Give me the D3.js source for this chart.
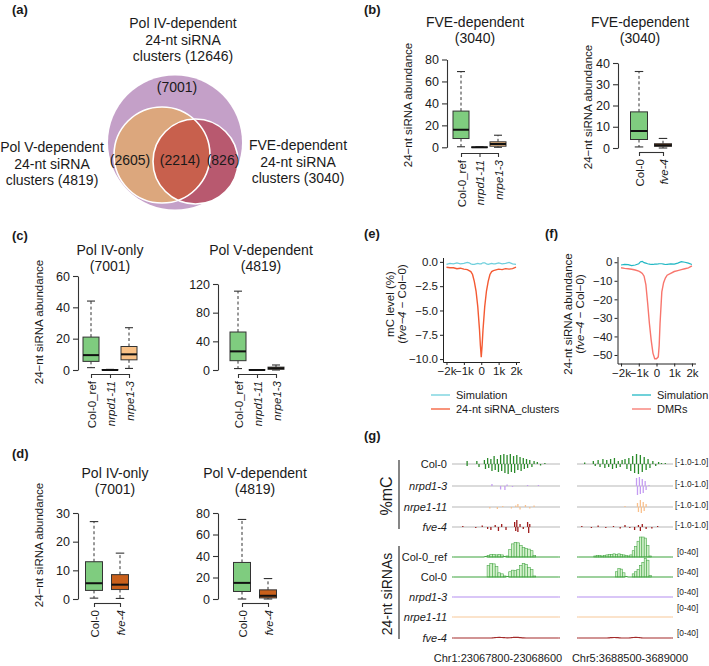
<!DOCTYPE html>
<html><head><meta charset="utf-8">
<script src="https://cdn.jsdelivr.net/npm/d3@7"></script>
<style>
body{margin:0;background:#fff}
svg{display:block}
text{font-family:"Liberation Sans",Arial,Helvetica,sans-serif;fill:#1a1a1a}
</style>
</head><body>
<svg id="chart" width="709" height="666"></svg>
<script>
// ---------------- DATA ----------------
// (a) Venn
const vennNames = [["Pol IV-dependent","24-nt siRNA","clusters (12646)"],["Pol V-dependent","24-nt siRNA","clusters (4819)"],["FVE-dependent","24-nt siRNA","clusters (3040)"]];
const vennRegions = ["(7001)","(2605)","(2214)","(826)"];

// box stats: [lower whisker, Q1, median, Q3, upper whisker]
const bTitle = ["FVE-dependent","(3040)"];
const bCats1 = ["Col-0_ref","nrpd1-11","nrpe1-3"];
const bStats1 = [[0.5,8,16,33,69],[0,0,0,0.2,0.4],[0,1,3,5,11]];
const bTicks1 = [0,20,40,60,80];
const bCats2 = ["Col-0","fve-4"];
const bStats2 = [[0.5,4,8,17,36],[0,0.8,1.3,2,4.5]];
const bTicks2 = [0,10,20,30,40];

const cTitles = [["Pol IV-only","(7001)"],["Pol V-dependent","(4819)"]];
const cCats = ["Col-0_ref","nrpd1-11","nrpe1-3"];
const cStats1 = [[1.5,5.5,9.5,21,44],[0,0,0,0.2,0.4],[1,6.5,10,15,27]];
const cTicks1 = [0,20,40,60];
const cStats2 = [[2,13,26,53,110],[0,0,0,0.3,0.6],[0,1,2.5,4,7]];
const cTicks2 = [0,40,80,120];

const dCats = ["Col-0","fve-4"];
const dStats1 = [[0.3,3,5.5,13,27],[0.2,3.3,5,8.5,16]];
const dTicks1 = [0,10,20,30];
const dStats2 = [[0,7,15,34,74],[0,1,3,8.5,19]];
const dTicks2 = [0,20,40,60,80];

const boxColors = {"Col-0_ref":"#7fcc7f","Col-0":"#7fcc7f","nrpd1-11":"#bbbbbb","nrpe1-3":"#f9c186","fve-4":"#c9601b"};

// (e) mC level difference
const eDist = [-2000,-1800,-1600,-1400,-1200,-1000,-800,-700,-600,-500,-400,-300,-200,-100,-50,0,50,100,200,300,400,500,600,700,800,1000,1200,1400,1600,1800,2000];
const eClusters = [-0.55,-0.6,-0.6,-0.7,-0.65,-0.75,-0.8,-0.9,-1.0,-1.3,-2.0,-3.0,-4.6,-7.0,-8.6,-9.8,-8.6,-7.0,-4.6,-3.0,-2.0,-1.3,-1.0,-0.9,-0.85,-0.75,-0.8,-0.7,-0.75,-0.7,-0.55];
const eSim = [-0.25,-0.15,-0.2,-0.1,-0.2,-0.15,-0.05,-0.1,-0.2,-0.25,-0.25,-0.2,-0.15,-0.2,-0.2,-0.2,-0.15,-0.1,-0.1,-0.2,-0.25,-0.2,-0.15,-0.2,-0.2,-0.1,-0.2,-0.15,-0.05,-0.2,-0.25];
const eTicks = [0,-2.5,-5,-7.5,-10];

// (f) siRNA abundance difference
const fDist = [-2000,-1800,-1600,-1400,-1200,-1000,-900,-800,-700,-600,-500,-400,-300,-200,-100,0,100,150,200,300,400,500,600,800,1000,1200,1400,1600,1800,2000];
const fDMR = [-3,-3.3,-3.5,-3.8,-4.2,-4.8,-5.3,-6,-7.5,-12,-22,-33,-42,-49,-52,-52,-51,-45,-33,-16,-11,-8.5,-7,-6,-5,-4.5,-4,-3.5,-3,-2];
const fSim = [-1.5,-1.2,-1.3,-1.8,-1.5,-0.8,0.3,0.5,-0.2,-0.5,-0.8,-1.0,-1.2,-1.2,-1.0,-1.0,-0.9,-0.8,-0.8,-0.8,-1.0,-1.2,-1.1,-0.9,-1.0,-0.5,0.3,0,-0.5,-1.2];
const fTicks = [0,-10,-20,-30,-40,-50];
const xTicksEF = [-2000,-1000,0,1000,2000];

// (g) genome browser tracks: %mC bars [relative position, value(-1..1)]
const mcRows = ["Col-0","nrpd1-3","nrpe1-11","fve-4"];
const mcLeft = [
 [[0.14,0.3],[0.14,-0.2],[0.23,0.3],[0.25,-0.3],[0.30,0.4],[0.31,-0.5],[0.33,0.6],[0.34,-0.4],[0.36,0.5],[0.37,-0.7],[0.39,0.8],[0.40,-0.6],[0.42,0.5],[0.43,-0.8],[0.45,0.9],[0.46,-0.7],[0.48,1.0],[0.49,-0.9],[0.51,0.9],[0.52,-1.0],[0.54,1.0],[0.55,-0.8],[0.57,0.8],[0.58,-0.9],[0.60,0.9],[0.61,-0.6],[0.63,0.7],[0.64,-0.7],[0.66,0.6],[0.67,-0.5],[0.69,0.5],[0.70,-0.4],[0.72,0.4],[0.74,-0.3],[0.76,0.3],[0.79,0.2],[0.82,-0.15],[0.86,0.1]],
 [[0.37,0.2],[0.45,-0.35],[0.49,-0.4],[0.51,0.15],[0.56,-0.1],[0.70,0.1],[0.80,0.1]],
 [[0.35,-0.15],[0.42,-0.2],[0.47,0.1],[0.55,-0.15],[0.59,0.15],[0.61,0.3],[0.63,-0.25],[0.68,0.2],[0.72,-0.15],[0.76,0.15]],
 [[0.10,0.1],[0.22,-0.1],[0.28,0.15],[0.33,-0.2],[0.36,-0.3],[0.40,0.2],[0.43,-0.4],[0.46,0.3],[0.50,-0.3],[0.58,0.5],[0.59,-0.4],[0.60,0.7],[0.61,-0.5],[0.63,0.3],[0.66,-0.2],[0.70,0.5],[0.71,-0.6],[0.72,0.3]]
];
const mcRight = [
 [[0.08,0.15],[0.17,0.3],[0.19,-0.2],[0.22,0.4],[0.24,-0.3],[0.27,0.5],[0.29,-0.4],[0.31,0.4],[0.33,-0.3],[0.35,0.5],[0.37,-0.5],[0.39,0.6],[0.41,-0.4],[0.43,0.3],[0.45,-0.3],[0.47,0.4],[0.50,0.5],[0.52,-0.5],[0.54,0.6],[0.56,-0.7],[0.58,0.8],[0.60,-0.9],[0.62,1.0],[0.64,-1.0],[0.66,0.9],[0.68,-0.8],[0.70,0.7],[0.72,-0.6],[0.74,0.5],[0.76,-0.4],[0.79,0.3],[0.82,-0.2],[0.85,0.2],[0.88,0.1],[0.92,0.1]],
 [[0.62,0.8],[0.63,-0.9],[0.65,0.9],[0.66,-0.8],[0.68,0.7],[0.69,-0.7],[0.71,0.5],[0.72,-0.4],[0.75,0.1]],
 [[0.50,0.1],[0.63,0.4],[0.64,-0.5],[0.66,0.7],[0.67,-0.6],[0.69,0.5],[0.70,-0.4],[0.72,0.3]],
 [[0.05,0.1],[0.15,-0.1],[0.22,0.15],[0.30,-0.1],[0.38,0.1],[0.45,-0.15],[0.50,0.2],[0.55,-0.1],[0.60,-0.3],[0.64,0.2],[0.66,-0.4],[0.68,0.3],[0.72,-0.2],[0.78,-0.15],[0.84,0.1]]
];
const mcColors = ["#2a8a2a","#c49cf2","#f9c08c","#9e1c1c"];

// siRNA coverage (40 bins per region, 0-40 scale)
const srRows = ["Col-0_ref","Col-0","nrpd1-3","nrpe1-11","fve-4"];
const srLeft = [
 [0,0,0,0,0,0,0,0,0,0,0,0,1,3,5,5,4,5,4,1,2,14,25,28,27,22,18,16,15,12,3,0,0,0,0,0,0,0,0,0],
 [0,0,0,0,0,0,0,0,0,0,0,0,0,22,26,25,20,8,6,2,1,10,13,12,14,22,26,24,18,14,2,0,0,0,0,0,0,0,0,0],
 [0,0,0,0,0,0,0,0,0,0,0,0,0,0,0,0,0,0,0,0,0,0,0,0,0,0,0,0,0,0,0,0,0,0,0,0,0,0,0,0],
 [0,0,0,0,0,0,0,0,0,0,0,0,0,0,0,0,0,0,0,0,0,0,0,0,0,0,0,0,0,0,0,0,0,0,0,0,0,0,0,0],
 [0,0,0,0,0,0,0,0,0,0,0,0,0,0,0,0.5,1,1.2,1,0.6,0.3,0.5,1,1.3,1.1,0.6,0.2,0,0,0,0,0,0,0,0,0,0,0,0,0]
];
const srRight = [
 [0,0,0,0,0,0,0,2,3,3,2,3,4,5,5,6,5,6,5,4,3,2,4,12,20,30,38,38,36,22,2,0,0,0,0,0,0,0,0,0],
 [0,0,0,0,0,0,0,0,0,0,0,0,0,0,0,0,10,16,15,8,1,0,0,6,10,14,22,28,35,32,3,0,0,0,0,0,0,0,0,0],
 [0,0,0,0,0,0,0,0,0,0,0,0,0,0,0,0,0,0,0,0,0,0,0,0,0,0,0,0,0,0,0,0,0,0,0,0,0,0,0,0],
 [0,0,0,0,0,0,0,0,0,0,0,0,0,0,0,0,0,0,0,0,0,0,0,0,0,0,0,0,0,0,0,0,0,0,0,0,0,0,0,0],
 [0,0,0,0,0,0,0,0,0,0,0,0,0,0.4,0.8,1,0.8,0.4,0,0,0,0,0.5,1,1.2,1,0.5,0,0,0,0,0,0,0,0,0,0,0,0,0]
];
const srLineColors = ["#3da33d","#3da33d","#b48ef0","#f8c898","#a32a2a"];
const regions = ["Chr1:23067800-23068600","Chr5:3688500-3689000"];

// ---------------- DRAW ----------------
const FF = '"Liberation Sans",Arial,sans-serif';
const svg = d3.select("#chart");
svg.append("rect").attr("width",709).attr("height",666).attr("fill","#fff");

function panelLabel(t,x,y){
  svg.append("text").attr("x",x).attr("y",y).attr("font-size",13).attr("font-weight","bold").text(t);
}
panelLabel("(a)",12,14); panelLabel("(b)",364,14); panelLabel("(c)",12,240);
panelLabel("(d)",12,458); panelLabel("(e)",364,238); panelLabel("(f)",545,238); panelLabel("(g)",364,440);

// ---- (a) Venn ----
(function(){
  const g = svg.append("g");
  const C = [{cx:175,cy:142.5,r:67},{cx:162,cy:155,r:48},{cx:195.5,cy:161.5,r:42.5}];
  const fills = ["#c4a0c8","#dca77d","#b8596f"];
  g.append("clipPath").attr("id","clipV").append("circle").attr("cx",C[1].cx).attr("cy",C[1].cy).attr("r",C[1].r);
  C.forEach((c,i)=>g.append("circle").attr("cx",c.cx).attr("cy",c.cy).attr("r",c.r).attr("fill",fills[i]));
  g.append("circle").attr("cx",C[2].cx).attr("cy",C[2].cy).attr("r",C[2].r).attr("fill","#c8604d").attr("clip-path","url(#clipV)");
  [1,2].forEach(i=>g.append("circle").attr("cx",C[i].cx).attr("cy",C[i].cy).attr("r",C[i].r).attr("fill","none").attr("stroke","#fff").attr("stroke-width",1.6));
  const lab = [{x:183,y:28},{x:52,y:152},{x:298,y:150}];
  vennNames.forEach((lines,i)=>{
    lines.forEach((t,j)=>g.append("text").attr("x",lab[i].x).attr("y",lab[i].y+j*16.7).attr("text-anchor","middle").attr("font-size",14).text(t));
  });
  const rp = [{x:177,y:92},{x:130,y:165},{x:180,y:165},{x:223,y:165}];
  vennRegions.forEach((t,i)=>g.append("text").attr("x",rp[i].x).attr("y",rp[i].y).attr("text-anchor","middle").attr("font-size",14).text(t));
})();

// ---- box plots ----
function boxPlot(o){
  const g = svg.append("g");
  const y = d3.scaleLinear().domain([0,o.ticks[o.ticks.length-1]]).range([o.yZero,o.yTop]);
  const x = d3.scalePoint().domain(o.cats).range([o.xFirst,o.xLast]);
  const ya = g.append("g").attr("transform",`translate(${o.axisX},0)`)
    .call(d3.axisLeft(y).tickValues(o.ticks).tickSize(5).tickSizeOuter(0).tickPadding(3).tickFormat(d3.format("d")));
  ya.selectAll("path,line").attr("stroke","#333").attr("stroke-width",1.1);
  ya.selectAll("text").attr("font-size",12.5).attr("fill","#1a1a1a").style("font-family",FF);
  const xa = g.append("g").attr("transform",`translate(0,${o.axisY})`)
    .call(d3.axisBottom(x).tickSize(4).tickSizeOuter(0));
  xa.selectAll("path,line").attr("stroke","#333").attr("stroke-width",1.1);
  xa.selectAll("text").attr("transform","rotate(-90)").attr("text-anchor","end")
    .attr("x",-7).attr("y",0).attr("dy","0.35em").attr("font-size",11.5).attr("fill","#1a1a1a")
    .style("font-family",FF)
    .style("font-style",d=>d.startsWith("Col")?"normal":"italic");
  const bw = o.bw;
  o.cats.forEach((c,i)=>{
    const s = o.stats[i], cx = x(c);
    const col = boxColors[c];
    g.append("line").attr("x1",cx).attr("x2",cx).attr("y1",y(s[3])).attr("y2",y(s[4])).attr("stroke","#333").attr("stroke-dasharray","3,2.5");
    g.append("line").attr("x1",cx).attr("x2",cx).attr("y1",y(s[1])).attr("y2",y(s[0])).attr("stroke","#333").attr("stroke-dasharray","3,2.5");
    [s[0],s[4]].forEach(v=>g.append("line").attr("x1",cx-bw/4).attr("x2",cx+bw/4).attr("y1",y(v)).attr("y2",y(v)).attr("stroke","#333").attr("stroke-width",1.1));
    g.append("rect").attr("x",cx-bw/2).attr("width",bw).attr("y",y(s[3])).attr("height",Math.max(0.01,y(s[1])-y(s[3])))
      .attr("fill",col).attr("stroke","#333").attr("stroke-width",1);
    g.append("line").attr("x1",cx-bw/2).attr("x2",cx+bw/2).attr("y1",y(s[2])).attr("y2",y(s[2])).attr("stroke","#111").attr("stroke-width",2);
  });
  o.title.forEach((t,j)=>svg.append("text").attr("x",o.titleX).attr("y",o.titleY+j*15.5).attr("text-anchor","middle").attr("font-size",14).text(t));
  if(o.ylab){
    svg.append("text").attr("transform",`translate(${o.ylabX},${o.ylabY}) rotate(-90)`).attr("text-anchor","middle").attr("font-size",11.5).text("24\u2212nt siRNA abundance");
  }
}

boxPlot({cats:bCats1,stats:bStats1,ticks:bTicks1,yZero:147.3,yTop:59.5,xFirst:461,xLast:498,axisX:447,axisY:153,bw:16,title:bTitle,titleX:475,titleY:27,ylab:true,ylabX:412,ylabY:105});
boxPlot({cats:bCats2,stats:bStats2,ticks:bTicks2,yZero:148,yTop:63,xFirst:639,xLast:663,axisX:618,axisY:152,bw:17,title:bTitle,titleX:640,titleY:27,ylab:true,ylabX:592,ylabY:107});
boxPlot({cats:cCats,stats:cStats1,ticks:cTicks1,yZero:370,yTop:276,xFirst:91,xLast:129,axisX:78,axisY:374,bw:16,title:cTitles[0],titleX:110,titleY:255,ylab:true,ylabX:43,ylabY:322});
boxPlot({cats:cCats,stats:cStats2,ticks:cTicks2,yZero:370,yTop:284,xFirst:238,xLast:276,axisX:218,axisY:374,bw:16,title:cTitles[1],titleX:261,titleY:255,ylab:false});
boxPlot({cats:dCats,stats:dStats1,ticks:dTicks1,yZero:599,yTop:513,xFirst:94,xLast:120,axisX:78,axisY:603,bw:17,title:cTitles[0],titleX:115,titleY:478,ylab:true,ylabX:43,ylabY:545});
boxPlot({cats:dCats,stats:dStats2,ticks:dTicks2,yZero:599,yTop:513,xFirst:242,xLast:268,axisX:218,axisY:603,bw:17,title:cTitles[1],titleX:255,titleY:478,ylab:false});

// ---- (e), (f) line plots ----
function kfmt(d){ return d===0?"0":(d<0?"\u2212":"")+Math.abs(d/1000)+"k"; }
function linePlot(o){
  const g = svg.append("g");
  const x = d3.scaleLinear().domain([-2200,2200]).range([o.x0,o.x1]);
  const y = d3.scaleLinear().domain(o.yDom).range([o.yBottom,o.yTopPx]);
  const ya = g.append("g").attr("transform",`translate(${o.x0},0)`).call(d3.axisLeft(y).tickValues(o.ticks).tickSize(3).tickSizeOuter(0).tickPadding(2).tickFormat(o.fmt));
  const xa = g.append("g").attr("transform",`translate(0,${o.yBottom})`).call(d3.axisBottom(x).tickValues(xTicksEF).tickSize(3).tickSizeOuter(0).tickPadding(2).tickFormat(kfmt));
  [ya,xa].forEach(a=>{
    a.selectAll("path,line").attr("stroke","#222").attr("stroke-width",1);
    a.selectAll("text").attr("font-size",11.5).attr("fill","#222").style("font-family",FF);
  });
  const ln = d3.line().x((d,i)=>x(o.dist[i])).y(d=>y(d));
  g.append("path").datum(o.sim).attr("d",ln).attr("fill","none").attr("stroke",o.simColor).attr("stroke-width",1.2);
  g.append("path").datum(o.main).attr("d",ln).attr("fill","none").attr("stroke",o.mainColor).attr("stroke-width",1.4);
  svg.append("text").attr("transform",`translate(${o.yl1},${o.ylY}) rotate(-90)`).attr("text-anchor","middle").attr("font-size",11.5).text(o.ylab);
  const t2 = svg.append("text").attr("transform",`translate(${o.yl2},${o.ylY}) rotate(-90)`).attr("text-anchor","middle").attr("font-size",11.5);
  t2.append("tspan").text("(");
  t2.append("tspan").style("font-style","italic").text("fve\u22124");
  t2.append("tspan").text(" \u2212 Col\u22120)");
  o.legend.forEach((L,i)=>{
    const ly = o.legY + i*14;
    svg.append("line").attr("x1",o.legX).attr("x2",o.legX+19).attr("y1",ly).attr("y2",ly).attr("stroke",L[1]).attr("stroke-width",1.3);
    svg.append("text").attr("x",o.legX+25).attr("y",ly+4).attr("font-size",11).text(L[0]);
  });
}
linePlot({x0:443,x1:519.5,yDom:[-10.3,0.45],yBottom:362,yTopPx:257.5,ticks:eTicks,fmt:d3.format(".1f"),dist:eDist,sim:eSim,main:eClusters,
  simColor:"#6fcfdc",mainColor:"#f45a33",ylab:"mC  level (%)",yl1:394,yl2:406,ylY:304,
  legend:[["Simulation","#6fcfdc"],["24-nt siRNA_clusters","#f45a33"]],legX:431,legY:395});
linePlot({x0:617.5,x1:695.5,yDom:[-54.6,3.1],yBottom:363.5,yTopPx:256.5,ticks:fTicks,fmt:d3.format("d"),dist:fDist,sim:fSim,main:fDMR,
  simColor:"#22b8c4",mainColor:"#f8766d",ylab:"24-nt siRNA abundance",yl1:572,yl2:584,ylY:314,
  legend:[["Simulation","#22b8c4"],["DMRs","#f8766d"]],legX:632,legY:395});

// ---- (g) genome tracks ----
(function(){
  const g = svg.append("g");
  const regs = [[452,560],[577,673]];
  const mcBase = [464,486,507,527];
  const srBase = [557,577,597,617,638];
  mcRows.forEach((r,i)=>{
    const b = mcBase[i];
    const yv = d3.scaleLinear().domain([-1,1]).range([b+10,b-10]);
    [mcLeft[i],mcRight[i]].forEach((dat,k)=>{
      const xs = d3.scaleLinear().domain([0,1]).range(regs[k]);
      g.append("line").attr("x1",regs[k][0]).attr("x2",regs[k][1]).attr("y1",b).attr("y2",b).attr("stroke","#cfcfcf").attr("stroke-width",1.5);
      g.selectAll(null).data(dat).enter().append("line")
        .attr("x1",d=>xs(d[0])).attr("x2",d=>xs(d[0])).attr("y1",yv(0)).attr("y2",d=>yv(d[1]))
        .attr("stroke",mcColors[i]).attr("stroke-width",1.3);
    });
    g.append("text").attr("x",447).attr("y",b+4).attr("text-anchor","end").attr("font-size",11)
      .style("font-style",i===0?"normal":"italic").text(r);
    g.append("text").attr("x",675).attr("y",b+1).attr("font-size",8.3).attr("fill","#333").text("[-1.0-1.0]");
  });
  srRows.forEach((r,i)=>{
    const b = srBase[i];
    const yv = d3.scaleLinear().domain([0,40]).range([b,b-21]);
    [srLeft[i],srRight[i]].forEach((dat,k)=>{
      const xb = d3.scaleBand().domain(d3.range(dat.length)).range(regs[k]);
      g.selectAll(null).data(dat.map((v,j)=>[j,v]).filter(d=>d[1]>=2)).enter().append("rect")
        .attr("x",d=>xb(d[0])).attr("width",xb.bandwidth()).attr("y",d=>yv(d[1])).attr("height",d=>b-yv(d[1]))
        .attr("fill","#d3f0cc").attr("stroke","#49a849").attr("stroke-width",0.6);
      const ln = d3.line().x((d,j)=>xb(j)+xb.bandwidth()/2).y(d=>d<2?yv(d):b).curve(d3.curveMonotoneX);
      g.append("path").datum(dat).attr("d",ln).attr("fill","none").attr("stroke",srLineColors[i]).attr("stroke-width",1.2);
      g.append("line").attr("x1",regs[k][0]).attr("x2",xb(0)+xb.bandwidth()/2).attr("y1",b).attr("y2",b).attr("stroke",srLineColors[i]).attr("stroke-width",1.2);
      g.append("line").attr("x1",xb(dat.length-1)+xb.bandwidth()/2).attr("x2",regs[k][1]).attr("y1",b).attr("y2",b).attr("stroke",srLineColors[i]).attr("stroke-width",1.2);
    });
    g.append("text").attr("x",447).attr("y",b+4).attr("text-anchor","end").attr("font-size",11)
      .style("font-style",i<2?"normal":"italic").text(r);
    g.append("text").attr("x",677).attr("y",b-2 - (i===3?4:0)).attr("font-size",8.3).attr("fill","#333").text("[0-40]");
  });
  g.append("line").attr("x1",399).attr("x2",399).attr("y1",460).attr("y2",529).attr("stroke","#222").attr("stroke-width",1.1);
  g.append("line").attr("x1",399).attr("x2",399).attr("y1",546).attr("y2",639).attr("stroke","#222").attr("stroke-width",1.1);
  g.append("text").attr("transform","translate(392,496) rotate(-90)").attr("text-anchor","middle").attr("font-size",16).text("%mC");
  g.append("text").attr("transform","translate(392,594) rotate(-90)").attr("text-anchor","middle").attr("font-size",14).text("24-nt siRNAs");
  regions.forEach((t,k)=>g.append("text").attr("x",k===0?498:630).attr("y",662).attr("text-anchor","middle").attr("font-size",11).text(t));
})();
</script>
</body></html>
